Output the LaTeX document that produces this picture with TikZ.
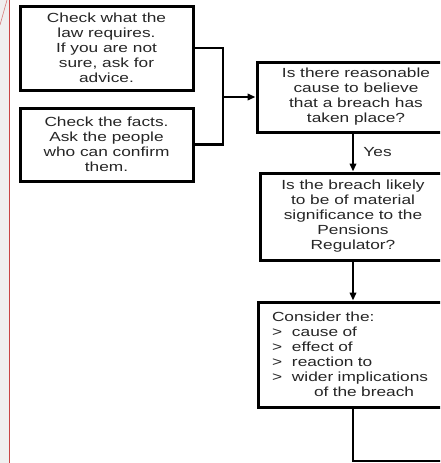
\documentclass[tikz,border=0pt]{standalone}
\usepackage{fontspec}
\setmainfont{Liberation Sans}[FakeStretch=1.31]
\usetikzlibrary{arrows.meta}

\definecolor{margingrey}{RGB}{240,240,240}
\definecolor{marginred}{RGB}{200,70,70}

\tikzset{
  step box/.style={draw=black, line width=3pt, fill=white, text=black!85,
    font=\fontsize{13.2}{15}\selectfont, align=center, inner sep=0pt},
  link/.style={line width=2.2pt, black},
}
\newcommand{\gtitem}[1]{\makebox[20pt][l]{>}#1}

\begin{document}
\begin{tikzpicture}[x=1pt, y=-1pt, >={Triangle[length=8pt,width=6.5pt]}]
        \useasboundingbox (0,0) rectangle (440,463);
        \clip (0,0) rectangle (440,463);

        % page margin
        \fill[margingrey] (0,0) rectangle (8.5,463);
        \draw[marginred, line width=1.3pt] (9.5,0) -- (9.5,463);
        \draw[marginred!70, line width=0.6pt] (0,25) -- (7,0);

        \node[step box, minimum width=173, minimum height=84] (L) at (106.5,48)
            {Check what the\\law requires.\\If you are not\\sure, ask for\\advice.};
        \node[step box, minimum width=173, minimum height=73] (F) at (106.5,144.5)
            {Check the facts.\\Ask the people\\who can confirm\\them.};
        \node[step box, minimum width=198, minimum height=70] (C) at (356,97)
            {Is there reasonable\\cause to believe\\that a breach has\\taken place?};
        \node[step box, minimum width=186, minimum height=87] (S) at (353,216.5)
            {Is the breach likely\\to be of material\\significance to the\\Pensions\\Regulator?};
        \node[step box, align=left, text width=162, inner xsep=14, minimum height=105] (K) at (353,354.5)
            {Consider the:\\\gtitem{cause of}\\\gtitem{effect of}\\\gtitem{reaction to}\\\gtitem{wider implications}\\\hspace*{42pt}of the breach};

        \coordinate (J) at (223,97);
        \coordinate (X) at (445,461);

        % into the first question
        \draw [link] (L.east) -| (J);
        \draw [link] (F.east) -| (J);
        \path [link, ->] (J) edge (C.west);

        \path [link, ->] (C.south -| S.north) edge node [right=6pt, text=black!85, font=\fontsize{13.2}{15}\selectfont] {Yes} (S.north);
        \path [link, ->] (S.south) edge (K.north);

        \draw [link] (K.south) |- (X);
    \end{tikzpicture}
\end{document}
